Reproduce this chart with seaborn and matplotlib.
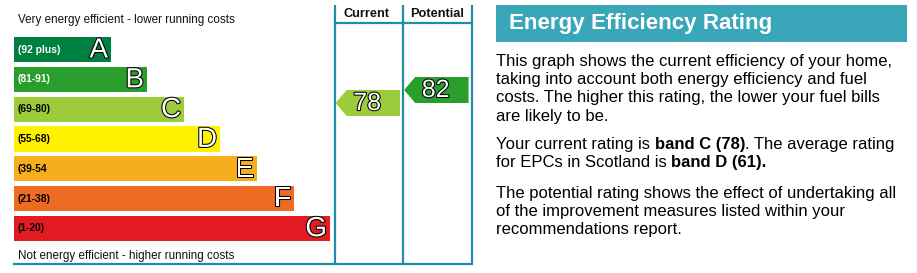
import matplotlib
matplotlib.use("Agg")
import matplotlib.pyplot as plt
import matplotlib.patheffects as pe
from matplotlib.patches import Rectangle
import seaborn as sns
import pandas as pd

# ---- data ----
bands = ["A", "B", "C", "D", "E", "F", "G"]
band_ranges = ["(92 plus)", "(81-91)", "(69-80)", "(55-68)", "(39-54", "(21-38)", "(1-20)"]
band_lengths = [97, 133, 170, 206, 243, 280, 316]
band_colors = ["#008040", "#2a9e2d", "#9ccb3c", "#fff200", "#f7ae1c", "#ed6b23", "#e31c24"]
range_text_colors = ["white", "white", "black", "black", "black", "black", "black"]
columns = ["Current", "Potential"]
ratings = [78, 82]
rating_bands = ["C", "B"]
top_note = "Very energy efficient - lower running costs"
bottom_note = "Not energy efficient - higher running costs"
title = "Energy Efficiency Rating"
para1 = ["This graph shows the current efficiency of your home,",
         "taking into account both energy efficiency and fuel",
         "costs. The higher this rating, the lower your fuel bills",
         "are likely to be."]
para2 = [[("Your current rating is ", "normal"), ("band C (78)", "bold"), (". The average rating", "normal")],
         [("for EPCs in Scotland is ", "normal"), ("band D (61).", "bold")]]
para3 = ["The potential rating shows the effect of undertaking all",
         "of the improvement measures listed within your",
         "recommendations report."]

W, H = 917, 273
FRAME = "#1f8ca8"
TEAL = "#3aa6b9"
plt.rcParams["font.family"] = ["Liberation Sans", "DejaVu Sans"]

fig = plt.figure(figsize=(W / 100, H / 100), dpi=100)
fig.patch.set_facecolor("white")

# overlay axes in pixel units
ax = fig.add_axes([0, 0, 1, 1])
ax.set_xlim(0, W)
ax.set_ylim(H, 0)
ax.axis("off")

def fx(px):
    return px / W

def fy(py):
    return 1 - py / H

# ---- bands ----
top_px, bot_px, left_px = 37, 241, 14
bax = fig.add_axes([fx(left_px), fy(bot_px), fx(max(band_lengths)), (bot_px - top_px) / H])
df = pd.DataFrame({"band": bands, "length": band_lengths})
sns.barplot(data=df, x="length", y="band", hue="band", order=bands, hue_order=bands,
            palette=band_colors, saturation=1, width=0.85, legend=False, ax=bax, linewidth=0)
bax.set_xlim(0, max(band_lengths))
bax.set_ylim(len(bands) - 1 + 0.425, -0.425)
bax.axis("off")
stroke = [pe.withStroke(linewidth=1.5, foreground="black")]
for i, (b, r, L, tc) in enumerate(zip(bands, band_ranges, band_lengths, range_text_colors)):
    bax.text(L - 3, i + 0.03, b, ha="right", va="center", fontsize=20, color="white",
             path_effects=stroke)
    bax.text(4, i, r, ha="left", va="center", fontsize=7.4, fontweight="bold", color=tc)

ax.text(18, 20, top_note, ha="left", va="center", fontsize=8.4, color="#111111")
ax.text(18, 256, bottom_note, ha="left", va="center", fontsize=8.4, color="#111111")

# ---- frame ----
for x in (335, 403, 472):
    ax.plot([x, x], [5, 264], color=FRAME, lw=1.6, solid_capstyle="butt")
ax.plot([335, 472], [23, 23], color=FRAME, lw=1.6)
ax.plot([14, 472], [264, 264], color=FRAME, lw=1.6)
for name, cx in zip(columns, (367, 437)):
    ax.text(cx, 14, name, ha="center", va="center", fontsize=9.2, fontweight="bold", color="#111111")

# ---- rating arrows (y axis in rating units) ----
cax = fig.add_axes([fx(335), fy(264), fx(472 - 335), (264 - 23) / H])
cax.set_xlim(0, 2)
v_top = 78 + (103 - 23) / 3.25
v_bot = 78 - (264 - 103) / 3.25
cax.set_ylim(v_bot, v_top)
cax.axis("off")
band_color_map = dict(zip(bands, band_colors))
half = 4.0
for i, (v, b) in enumerate(zip(ratings, rating_bands)):
    tip, bl, br = i + 0.01, i + 0.17, i + 0.95
    cax.fill([tip, bl, br, br, bl], [v, v + half, v + half, v - half, v - half],
             color=band_color_map[b], lw=0)
    cax.text(i + 0.47, v, str(v), ha="center", va="center", fontsize=18, color="white",
             path_effects=stroke)

# ---- right panel ----
ax.add_patch(Rectangle((496, 5), 411, 37, color=TEAL, lw=0))
ax.text(509, 24, title, ha="left", va="center", fontsize=16.1, fontweight="bold", color="white")

fs = 12
for k, line in enumerate(para1):
    ax.text(496, 65.7 + 18.3 * k, line, ha="left", va="baseline", fontsize=fs, color="black")

fig.canvas.draw()
renderer = fig.canvas.get_renderer()
inv = ax.transData.inverted()
for k, pieces in enumerate(para2):
    x = 496
    y = 149.3 + 17.7 * k
    for txt, wt in pieces:
        t = ax.text(x, y, txt, ha="left", va="baseline", fontsize=fs, fontweight=wt, color="black")
        bb = t.get_window_extent(renderer=renderer)
        x = inv.transform((bb.x1, bb.y0))[0]

for k, line in enumerate(para3):
    ax.text(496, 198.3 + 17.9 * k, line, ha="left", va="baseline", fontsize=fs, color="black")

fig.savefig("out.png", dpi=100, facecolor="white")
